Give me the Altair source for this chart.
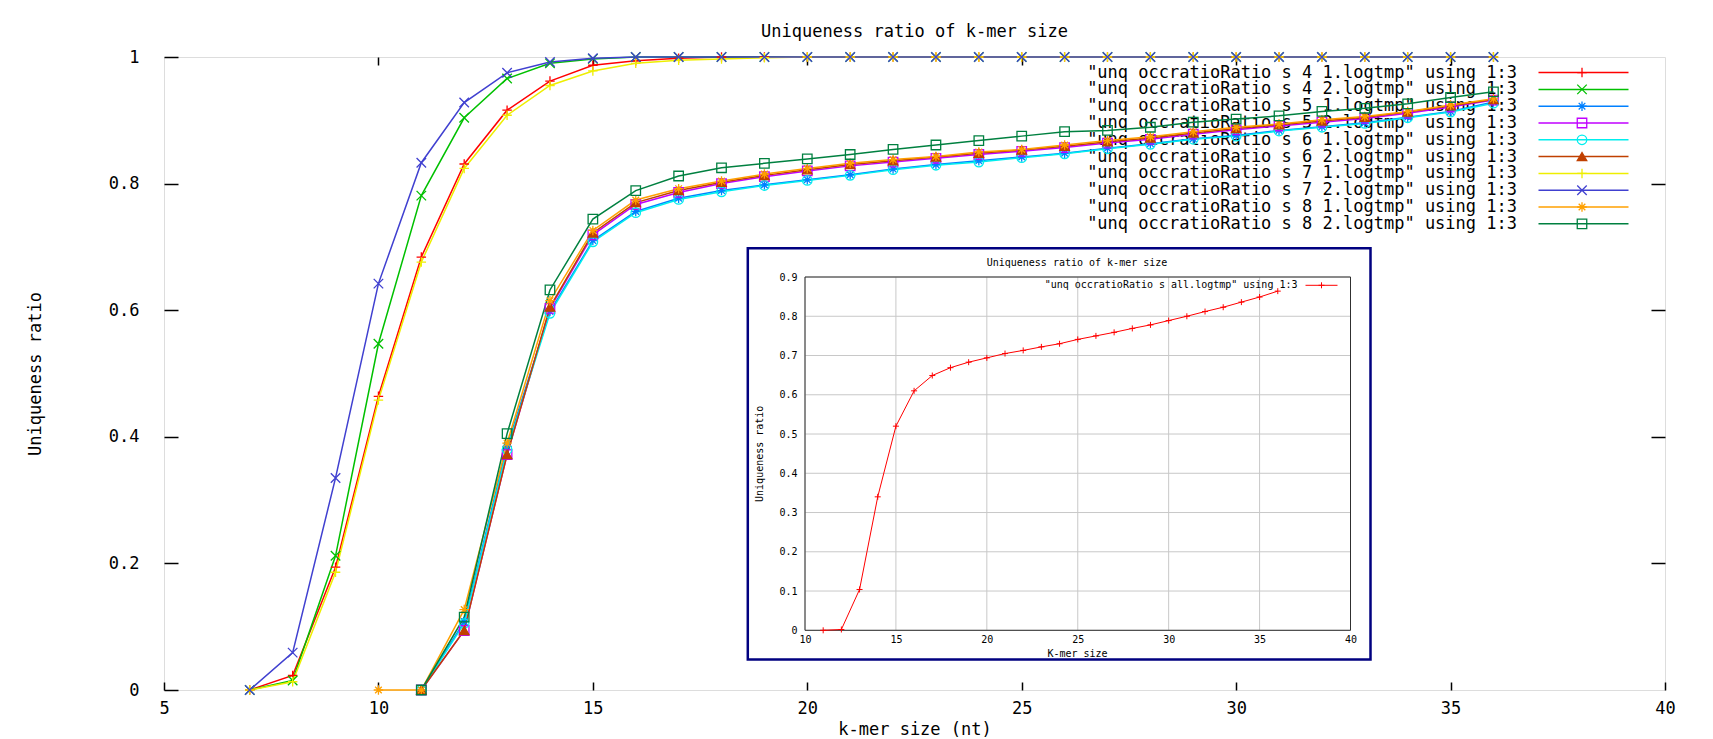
import altair as alt
import pandas as pd

FONT = "DejaVu Sans Mono"

# ---------------- main chart data ----------------
series_names = ["s4_1", "s4_2", "s5_1", "s5_2", "s6_1", "s6_2", "s7_1", "s7_2", "s8_1", "s8_2"]
legend_labels = [
    '"unq occratioRatio s 4 1.logtmp" using 1:3',
    '"unq occratioRatio s 4 2.logtmp" using 1:3',
    '"unq occratioRatio s 5 1.logtmp" using 1:3',
    '"unq occratioRatio s 5 2.logtmp" using 1:3',
    '"unq occratioRatio s 6 1.logtmp" using 1:3',
    '"unq occratioRatio s 6 2.logtmp" using 1:3',
    '"unq occratioRatio s 7 1.logtmp" using 1:3',
    '"unq occratioRatio s 7 2.logtmp" using 1:3',
    '"unq occratioRatio s 8 1.logtmp" using 1:3',
    '"unq occratioRatio s 8 2.logtmp" using 1:3',
]
series_colors = ["#ff0000", "#00c000", "#0080ff", "#c000ff", "#00eeee",
                 "#c04000", "#eeee00", "#4040d0", "#ffa000", "#008040"]
PLUS = "M-1,0L1,0M0,-1L0,1"
CROSS = "M-1,-1L1,1M-1,1L1,-1"
STAR = "M-1,0L1,0M0,-1L0,1M-0.7,-0.7L0.7,0.7M-0.7,0.7L0.7,-0.7"
series_shapes = [PLUS, CROSS, STAR, "square", "circle", "triangle-up", PLUS, CROSS, STAR, "square"]
series_fills = ["transparent", "transparent", "transparent", "transparent", "transparent",
                "#c04000", "transparent", "transparent", "transparent", "transparent"]

k_fast = [7, 8, 9, 10, 11, 12, 13, 14, 15, 16, 17, 18, 19, 20, 21, 22, 23, 24, 25, 26,
          27, 28, 29, 30, 31, 32, 33, 34, 35, 36]
s4_1 = [0.0, 0.023, 0.194, 0.464, 0.684, 0.831, 0.916, 0.962, 0.987, 0.994,
        0.998, 1.0, 1.0, 1.0, 1.0, 1.0, 1.0, 1.0, 1.0, 1.0,
        1.0, 1.0, 1.0, 1.0, 1.0, 1.0, 1.0, 1.0, 1.0, 1.0]
s4_2 = [0.0, 0.015, 0.212, 0.547, 0.781, 0.904, 0.966, 0.990, 0.997, 1.0,
        1.0, 1.0, 1.0, 1.0, 1.0, 1.0, 1.0, 1.0, 1.0, 1.0,
        1.0, 1.0, 1.0, 1.0, 1.0, 1.0, 1.0, 1.0, 1.0, 1.0]
s7_1 = [0.0, 0.013, 0.186, 0.458, 0.676, 0.824, 0.908, 0.955, 0.978, 0.990,
        0.995, 0.997, 0.999, 1.0, 1.0, 1.0, 1.0, 1.0, 1.0, 1.0,
        1.0, 1.0, 1.0, 1.0, 1.0, 1.0, 1.0, 1.0, 1.0, 1.0]
s7_2 = [0.0, 0.059, 0.335, 0.642, 0.833, 0.928, 0.975, 0.992, 0.998, 1.0,
        1.0, 1.0, 1.0, 1.0, 1.0, 1.0, 1.0, 1.0, 1.0, 1.0,
        1.0, 1.0, 1.0, 1.0, 1.0, 1.0, 1.0, 1.0, 1.0, 1.0]

k_slow = [10, 11, 12, 13, 14, 15, 16, 17, 18, 19, 20, 21, 22, 23, 24, 25, 26, 27,
          28, 29, 30, 31, 32, 33, 34, 35, 36]
s5_1 = [None, 0.0, 0.108, 0.385, 0.598, 0.710, 0.756, 0.777, 0.789,
        0.798, 0.806, 0.814, 0.823, 0.830, 0.836, 0.842, 0.848, 0.856,
        0.863, 0.871, 0.876, 0.884, 0.890, 0.896, 0.905, 0.914, 0.929]
s5_2 = [None, 0.0, 0.094, 0.372, 0.603, 0.719, 0.767, 0.786, 0.800,
        0.811, 0.820, 0.828, 0.834, 0.840, 0.846, 0.851, 0.857, 0.864,
        0.870, 0.878, 0.885, 0.891, 0.897, 0.903, 0.911, 0.921, 0.932]
s6_1 = [None, 0.0, 0.105, 0.380, 0.595, 0.708, 0.754, 0.775, 0.787,
        0.797, 0.805, 0.813, 0.822, 0.829, 0.834, 0.841, 0.847, 0.855,
        0.862, 0.870, 0.875, 0.883, 0.889, 0.895, 0.904, 0.913, 0.927]
s6_2 = [None, 0.0, 0.094, 0.372, 0.605, 0.722, 0.770, 0.789, 0.802,
        0.813, 0.822, 0.830, 0.836, 0.842, 0.848, 0.853, 0.859, 0.866,
        0.872, 0.880, 0.887, 0.893, 0.899, 0.905, 0.913, 0.923, 0.933]
s8_1 = [0.0, 0.0, 0.127, 0.390, 0.615, 0.726, 0.774, 0.792, 0.804,
        0.815, 0.824, 0.832, 0.838, 0.843, 0.850, 0.854, 0.861, 0.868,
        0.874, 0.882, 0.889, 0.894, 0.901, 0.906, 0.914, 0.924, 0.934]
s8_2 = [None, 0.0, 0.115, 0.405, 0.632, 0.744, 0.789, 0.812, 0.825,
        0.832, 0.839, 0.846, 0.854, 0.861, 0.868, 0.875, 0.882, 0.884,
        0.889, 0.897, 0.902, 0.907, 0.914, 0.919, 0.926, 0.936, 0.945]

x_ticks = [5, 10, 15, 20, 25, 30, 35, 40]
x_ticks_inner = [10, 15, 20, 25, 30, 35]
y_ticks = [0, 0.2, 0.4, 0.6, 0.8, 1]
y_ticks_inner = [0.2, 0.4, 0.6, 0.8]
x_domain = [5, 40]
y_domain = [0, 1]

# ---------------- inset data ----------------
inset_k = [11, 12, 13, 14, 15, 16, 17, 18, 19, 20, 21, 22, 23, 24, 25, 26, 27, 28,
           29, 30, 31, 32, 33, 34, 35, 36]
inset_all = [0.0, 0.002, 0.104, 0.340, 0.520, 0.610, 0.649, 0.669, 0.683, 0.694,
             0.705, 0.713, 0.722, 0.730, 0.741, 0.750, 0.759, 0.769, 0.778, 0.789,
             0.800, 0.812, 0.823, 0.836, 0.849, 0.864]
inset_x_ticks = [10, 15, 20, 25, 30, 35, 40]
inset_y_ticks = [0, 0.1, 0.2, 0.3, 0.4, 0.5, 0.6, 0.7, 0.8, 0.9]
inset_x_domain = [10, 40]
inset_y_domain = [0, 0.9]
inset_title = "Uniqueness ratio of k-mer size"
inset_legend = '"unq occratioRatio s all.logtmp" using 1:3'

# ---------------- tables ----------------
rows = []
for name, vals in [("s4_1", s4_1), ("s4_2", s4_2), ("s7_1", s7_1), ("s7_2", s7_2)]:
    for k, v in zip(k_fast, vals):
        rows.append({"series": name, "k": k, "ratio": v})
for name, vals in [("s5_1", s5_1), ("s5_2", s5_2), ("s6_1", s6_1),
                   ("s6_2", s6_2), ("s8_1", s8_1), ("s8_2", s8_2)]:
    for k, v in zip(k_slow, vals):
        if v is not None:
            rows.append({"series": name, "k": k, "ratio": v})
df_main = pd.DataFrame(rows)
df_leg = pd.DataFrame({"row": list(range(len(series_names))),
                       "series": series_names, "label": legend_labels})
df_in = pd.DataFrame({"k": inset_k, "ratio": inset_all})
df_xgrid = pd.DataFrame({"t": inset_x_ticks, "lo": inset_y_domain[0], "hi": inset_y_domain[1]})
df_ygrid = pd.DataFrame({"t": inset_y_ticks, "lo": inset_x_domain[0], "hi": inset_x_domain[1]})
df_box = pd.DataFrame({"x": [inset_x_domain[0]], "x2": [inset_x_domain[1]],
                       "y": [inset_y_domain[0]], "y2": [inset_y_domain[1]]})
df_text = pd.DataFrame({"title": [inset_title], "legend": [inset_legend]})

# ---------------- scales / axes ----------------
x_main = alt.Scale(domain=x_domain, nice=False, zero=False)
y_main = alt.Scale(domain=y_domain, nice=False, zero=False)
color_scale = alt.Scale(domain=series_names, range=series_colors)
shape_scale = alt.Scale(domain=series_names, range=series_shapes)
fill_scale = alt.Scale(domain=series_names, range=series_fills)

x_axis = alt.Axis(orient="bottom", values=x_ticks, offset=-8, tickSize=8, tickWidth=1.5,
                  tickColor="black", domain=False, grid=False, labelFont=FONT,
                  labelFontSize=17, labelColor="black", labelPadding=18,
                  labelBaseline="middle", labelFlush=False, labelOverlap=False,
                  title="k-mer size (nt)", titleFont=FONT, titleFontSize=17,
                  titleFontWeight="normal", titleColor="black", titleX=750.5, titleY=47,
                  titleAlign="center", titleBaseline="middle")
y_axis = alt.Axis(orient="left", values=y_ticks, format="~g", offset=-14, tickSize=14,
                  tickWidth=1.5, tickColor="black", domain=False, grid=False,
                  labelFont=FONT, labelFontSize=17, labelColor="black", labelPadding=25,
                  labelAlign="right", labelBaseline="middle", labelOverlap=False,
                  title="Uniqueness ratio", titleFont=FONT, titleFontSize=17,
                  titleFontWeight="normal", titleColor="black", titleAngle=270,
                  titleX=-142.5, titleY=316.5, titleAlign="center", titleBaseline="middle")

x_enc = alt.X("k:Q", scale=x_main, axis=x_axis)
y_enc = alt.Y("ratio:Q", scale=y_main, axis=y_axis)
color_enc = alt.Color("series:N", scale=color_scale, legend=None)
shape_enc = alt.Shape("series:N", scale=shape_scale, legend=None)
fill_enc = alt.Fill("series:N", scale=fill_scale, legend=None)

lines = alt.Chart(df_main).mark_line(strokeWidth=1.5).encode(x=x_enc, y=y_enc, color=color_enc)
points = alt.Chart(df_main).mark_point(filled=False, size=90, strokeWidth=1.3, opacity=1).encode(
    x=x_enc, y=y_enc, color=color_enc, shape=shape_enc, fill=fill_enc)
main = alt.layer(lines, points)

mirror = alt.Chart(df_main).mark_point(opacity=0).encode(
    x=alt.X("k:Q", scale=x_main,
            axis=alt.Axis(orient="top", values=x_ticks_inner, offset=-8, tickSize=8,
                          tickWidth=1.5, tickColor="black", labels=False, domain=False,
                          grid=False, title=None)),
    y=alt.Y("ratio:Q", scale=y_main,
            axis=alt.Axis(orient="right", values=y_ticks_inner, offset=-14, tickSize=14,
                          tickWidth=1.5, tickColor="black", labels=False, domain=False,
                          grid=False, title=None)),
)

# ---------------- main key ----------------
leg_y = alt.Y("row:Q", scale=alt.Scale(domain=[0, 9], range=[15.6, 166.8], nice=False, zero=False),
              axis=None)
leg_text = alt.Chart(df_leg).mark_text(align="right", baseline="middle", font=FONT,
                                       fontSize=17, color="black").encode(
    x=alt.value(1353), y=leg_y, text="label:N")
leg_rule = alt.Chart(df_leg).mark_rule(strokeWidth=1.5).encode(
    x=alt.value(1374.5), x2=alt.value(1464.5), y=leg_y, color=color_enc)
leg_pts = alt.Chart(df_leg).mark_point(filled=False, size=90, strokeWidth=1.3, opacity=1).encode(
    x=alt.value(1418), y=leg_y, color=color_enc, shape=shape_enc, fill=fill_enc)
key = alt.layer(leg_text, leg_rule, leg_pts)

# ---------------- inset ----------------
x_in = alt.Scale(domain=inset_x_domain, range=[641, 1186.5], nice=False, zero=False)
y_in = alt.Scale(domain=inset_y_domain, range=[573.3, 220], nice=False, zero=False)
x_in_axis = alt.Axis(orient="bottom", offset=-59.7, values=inset_x_ticks, ticks=False,
                     domain=False, grid=False, zindex=2, labelFont=FONT, labelFontSize=10,
                     labelColor="black", labelPadding=9, labelBaseline="middle",
                     labelFlush=False, labelOverlap=False,
                     title="K-mer size", titleFont=FONT, titleFontSize=10,
                     titleFontWeight="normal", titleColor="black", titleX=913, titleY=23,
                     titleAlign="center", titleBaseline="middle")
y_in_axis = alt.Axis(orient="left", offset=-641, values=inset_y_ticks, format="~g",
                     ticks=False, domain=False, grid=False, zindex=2, labelFont=FONT,
                     labelFontSize=10, labelColor="black", labelPadding=8,
                     labelAlign="right", labelBaseline="middle", labelOverlap=False,
                     title="Uniqueness ratio", titleFont=FONT, titleFontSize=10,
                     titleFontWeight="normal", titleColor="black", titleAngle=270,
                     titleX=-46, titleY=396.3, titleAlign="center", titleBaseline="middle")

frame = alt.Chart(df_text).mark_rect(fill="white", stroke="#000080", strokeWidth=2.5).encode(
    x=alt.value(583.8), x2=alt.value(1206.5), y=alt.value(191.3), y2=alt.value(602.6))
xgrid = alt.Chart(df_xgrid).mark_rule(color="#c8c8c8", strokeWidth=1).encode(
    x=alt.X("t:Q", scale=x_in, axis=x_in_axis),
    y=alt.Y("lo:Q", scale=y_in, axis=y_in_axis), y2="hi:Q")
ygrid = alt.Chart(df_ygrid).mark_rule(color="#c8c8c8", strokeWidth=1).encode(
    y=alt.Y("t:Q", scale=y_in, axis=y_in_axis),
    x=alt.X("lo:Q", scale=x_in, axis=x_in_axis), x2="hi:Q")
box = alt.Chart(df_box).mark_rect(fill="transparent", stroke="#303030", strokeWidth=1).encode(
    x=alt.X("x:Q", scale=x_in, axis=x_in_axis), x2="x2:Q",
    y=alt.Y("y:Q", scale=y_in, axis=y_in_axis), y2="y2:Q")
in_line = alt.Chart(df_in).mark_line(color="#ff0000", strokeWidth=1).encode(
    x=alt.X("k:Q", scale=x_in, axis=x_in_axis),
    y=alt.Y("ratio:Q", scale=y_in, axis=y_in_axis))
in_pts = alt.Chart(df_in).mark_point(shape=PLUS, size=36, color="#ff0000", filled=False,
                                     strokeWidth=1, opacity=1).encode(
    x=alt.X("k:Q", scale=x_in, axis=x_in_axis),
    y=alt.Y("ratio:Q", scale=y_in, axis=y_in_axis))
in_title = alt.Chart(df_text).mark_text(font=FONT, fontSize=10, color="black",
                                        align="center", baseline="middle").encode(
    x=alt.value(913), y=alt.value(206), text="title:N")
in_leg_text = alt.Chart(df_text).mark_text(font=FONT, fontSize=10, color="black",
                                           align="right", baseline="middle").encode(
    x=alt.value(1133.5), y=alt.value(228.3), text="legend:N")
in_leg_rule = alt.Chart(df_text).mark_rule(color="#ff0000", strokeWidth=1).encode(
    x=alt.value(1141.5), x2=alt.value(1173.5), y=alt.value(228.3))
in_leg_pt = alt.Chart(df_text).mark_point(shape=PLUS, size=36, color="#ff0000", filled=False,
                                          strokeWidth=1, opacity=1).encode(
    x=alt.value(1157.5), y=alt.value(228.3))
inset = alt.layer(frame, xgrid, ygrid, box, in_line, in_pts, in_title,
                  in_leg_text, in_leg_rule, in_leg_pt)

chart = alt.layer(key, main, mirror, inset).resolve_scale(
    x="independent", y="independent"
).properties(
    width=1501, height=633,
    autosize=alt.AutoSizeParams(type="none"),
    padding={"left": 156, "top": 49, "right": 20, "bottom": 48},
    title=alt.TitleParams("Uniqueness ratio of k-mer size", font=FONT, fontSize=17,
                          fontWeight="normal", color="black", anchor="middle",
                          frame="group", offset=7),
).configure_view(stroke="black", strokeWidth=1.5).configure(background="white")

chart.save("out.html", embed_options={"renderer": "svg", "actions": False})
